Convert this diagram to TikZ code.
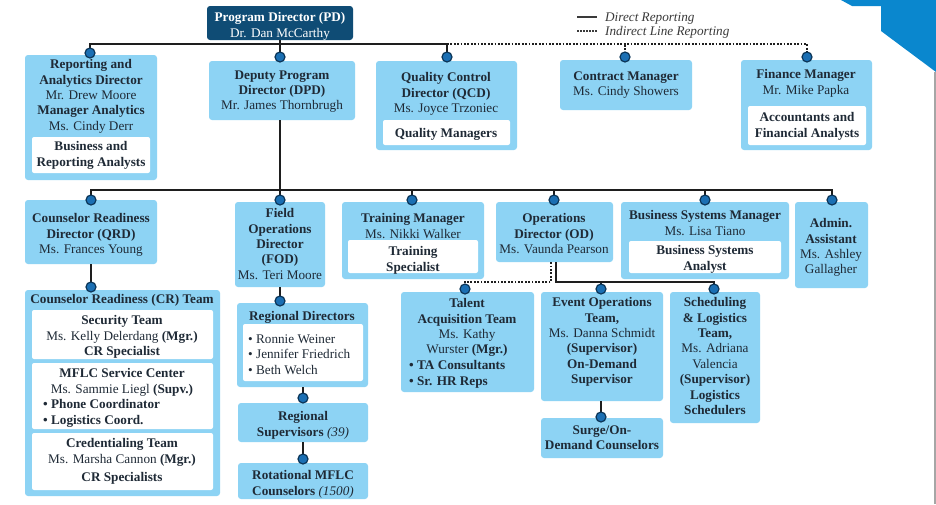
\documentclass[tikz,border=0pt]{standalone}
\usepackage{fontspec}
\setmainfont{Liberation Serif}
\usetikzlibrary{fit}
\definecolor{boxc}{HTML}{8DD3F4}
\definecolor{pdc}{HTML}{0F4C75}
\definecolor{linec}{HTML}{1E1E1E}
\definecolor{dotc}{HTML}{1B6FB3}
\definecolor{dotbc}{HTML}{0B3558}
\definecolor{cornc}{HTML}{0A87CE}
\definecolor{txtc}{HTML}{1F2A36}
\definecolor{legc}{HTML}{3A3A3A}
\tikzset{
  obox/.style={fill=boxc, rounded corners=3pt, inner sep=0pt},
  wbox/.style={fill=white, rounded corners=2pt, inner sep=0pt},
  pdbox/.style={fill=pdc, rounded corners=3pt, inner sep=0pt},
  txbase/.style={font=\fontsize{13.2}{15.4}\selectfont, inner sep=0pt, text=txtc},
  tx/.style={txbase, align=center, anchor=north, yshift=4.7pt},
  txl/.style={txbase, align=left, anchor=north west, yshift=4.7pt},
  legt/.style={txbase, text=legc, anchor=base west, yshift=-4.4pt},
  conn/.style={draw=linec, line width=2pt},
  dotconn/.style={draw=linec, line width=1.8pt, dash pattern=on 1.8pt off 1.6pt},
  dotn/.style={circle, fill=dotc, draw=dotbc, line width=1.2pt, minimum size=10pt, inner sep=0pt},
}
\begin{document}
\begin{tikzpicture}[x=1pt,y=-1pt]
\useasboundingbox (0,0) rectangle (936,504);
\fill[white] (0,0) rectangle (936,504);
% corner decoration
\fill[cornc] (841,0) -- (936,0) -- (936,72) -- (881,31) -- (881,6) -- (852,6) -- cycle;
\draw[gray!70, line width=1.2pt] (935,72) -- (935,504);

% ---------- boxes ----------
\node[pdbox, fit={(207,6)(353,40)}] (pd) {};
\node[obox, fit={(25,55)(157,180)}] (rad) {};
\node[wbox, fit={(32,137)(150,173)}] (radw) {};
\node[obox, fit={(209,61)(355,120)}] (dpd) {};
\node[obox, fit={(376,61)(517,150)}] (qcd) {};
\node[wbox, fit={(383,120)(510,145)}] (qcdw) {};
\node[obox, fit={(560,60)(692,110)}] (con) {};
\node[obox, fit={(741,60)(872,150)}] (fin) {};
\node[wbox, fit={(748,106)(866,145)}] (finw) {};

\node[obox, fit={(25,200)(157,264)}] (crd) {};
\node[obox, fit={(235,202)(325,287)}] (fod) {};
\node[obox, fit={(342,202)(484,279)}] (trn) {};
\node[wbox, fit={(348,240)(478,273)}] (trnw) {};
\node[obox, fit={(496,202)(613,262)}] (od) {};
\node[obox, fit={(621,202)(789,279)}] (bsm) {};
\node[wbox, fit={(629,241)(781,273)}] (bsmw) {};
\node[obox, fit={(795,202)(868,288)}] (adm) {};

\node[obox, fit={(25,290)(220,496)}] (crt) {};
\node[wbox, fit={(32,310)(213,359)}] (crt1) {};
\node[wbox, fit={(32,363)(213,429)}] (crt2) {};
\node[wbox, fit={(32,433)(213,490)}] (crt3) {};
\node[obox, fit={(237,303)(368,387)}] (rgd) {};
\node[wbox, fit={(243,324)(363,381)}] (rgdw) {};
\node[obox, fit={(238,403)(368,442)}] (rgs) {};
\node[obox, fit={(238,463)(368,499)}] (rot) {};
\node[obox, fit={(401,292)(534,392)}] (tal) {};
\node[obox, fit={(541,292)(663,401)}] (evt) {};
\node[obox, fit={(541,418)(663,458)}] (srg) {};
\node[obox, fit={(670,292)(760,423)}] (sch) {};

% ---------- texts ----------
\node[tx, text=white] (pd-t) at (280,17) {\textbf{Program Director (PD)}\\Dr. Dan McCarthy};
\node[tx] (rad-t) at (91,64) {\textbf{Reporting and}\\\textbf{Analytics Director}\\Mr. Drew Moore\\\textbf{Manager Analytics}\\Ms. Cindy Derr};
\node[tx] (radw-t) at (91,146) {\textbf{Business and}\\\textbf{Reporting Analysts}};
\node[tx] (dpd-t) at (282,75) {\textbf{Deputy Program}\\\textbf{Director (DPD)}\\Mr. James Thornbrugh};
\node[tx] (qcd-t) at (446,77) {\textbf{Quality Control}\\\textbf{Director (QCD)}\\Ms. Joyce Trzoniec};
\node[tx] (qcdw-t) at (446,133) {\textbf{Quality Managers}};
\node[tx] (con-t) at (626,76) {\textbf{Contract Manager}\\Ms. Cindy Showers};
\node[tx] (fin-t) at (806,74) {\textbf{Finance Manager}\\Mr. Mike Papka};
\node[tx] (finw-t) at (807,117) {\textbf{Accountants and}\\\textbf{Financial Analysts}};

\node[tx] (crd-t) at (91,218) {\textbf{Counselor Readiness}\\\textbf{Director (QRD)}\\Ms. Frances Young};
\node[tx] (fod-t) at (280,213) {\textbf{Field}\\\textbf{Operations}\\\textbf{Director}\\\textbf{(FOD)}\\Ms. Teri Moore};
\node[tx] (trn-t) at (413,218) {\textbf{Training Manager}\\Ms. Nikki Walker};
\node[tx] (trnw-t) at (413,251) {\textbf{Training}\\\textbf{Specialist}};
\node[tx] (od-t) at (554,218) {\textbf{Operations}\\\textbf{Director (OD)}\\Ms. Vaunda Pearson};
\node[tx] (bsm-t) at (705,215) {\textbf{Business Systems Manager}\\Ms. Lisa Tiano};
\node[tx] (bsmw-t) at (705,250) {\textbf{Business Systems}\\\textbf{Analyst}};
\node[tx] (adm-t) at (831,223) {\textbf{Admin.}\\\textbf{Assistant}\\Ms. Ashley\\Gallagher};

\node[tx] (crt-t) at (122,299) {\textbf{Counselor Readiness (CR) Team}};
\node[tx] (crt1-t) at (122,320) {\textbf{Security Team}\\Ms. Kelly Delerdang \textbf{(Mgr.)}\\\textbf{CR Specialist}};
\node[tx] (crt2-t) at (122,373) {\textbf{MFLC Service Center}\\Ms. Sammie Liegl \textbf{(Supv.)}};
\node[txl] (crt2-b) at (43,404) {\textbf{• Phone Coordinator}\\\textbf{• Logistics Coord.}};
\node[tx] (crt3-t) at (122,443) {\textbf{Credentialing Team}\\Ms. Marsha Cannon \textbf{(Mgr.)}};
\node[tx] (crt3-s) at (122,477) {\textbf{CR Specialists}};
\node[tx] (rgd-t) at (302,316) {\textbf{Regional Directors}};
\node[txl] (rgd-b) at (248,339) {• Ronnie Weiner\\• Jennifer Friedrich\\• Beth Welch};
\node[tx] (rgs-t) at (303,416) {\textbf{Regional}\\\textbf{Supervisors} \textit{(39)}};
\node[tx] (rot-t) at (303,475) {\textbf{Rotational MFLC}\\\textbf{Counselors} \textit{(1500)}};
\node[tx] (tal-t) at (467,303) {\textbf{Talent}\\\textbf{Acquisition Team}\\Ms. Kathy\\Wurster \textbf{(Mgr.)}};
\node[txl] (tal-b) at (409,365) {\textbf{• TA Consultants}\\\textbf{• Sr. HR Reps}};
\node[tx] (evt-t) at (602,302) {\textbf{Event Operations}\\\textbf{Team,}\\Ms. Danna Schmidt\\\textbf{(Supervisor)}\\\textbf{On-Demand}\\\textbf{Supervisor}};
\node[tx] (srg-t) at (602,430) {\textbf{Surge/On-}\\\textbf{Demand Counselors}};
\node[tx] (sch-t) at (715,302) {\textbf{Scheduling}\\\textbf{\& Logistics}\\\textbf{Team,}\\Ms. Adriana\\Valencia\\\textbf{(Supervisor)}\\\textbf{Logistics}\\\textbf{Schedulers}};

% ---------- legend ----------
\coordinate (lg1a) at (577,17); \coordinate (lg1b) at (597,17);
\coordinate (lg2a) at (577,31); \coordinate (lg2b) at (597,31);
\draw[draw=legc, line width=1.6pt] (lg1a) -- (lg1b);
\draw[draw=legc, line width=1.6pt, dash pattern=on 1.6pt off 1.4pt] (lg2a) -- (lg2b);
\node[legt] (lg1t) at (605,17) {\textit{Direct Reporting}};
\node[legt] (lg2t) at (605,31) {\textit{Indirect Line Reporting}};

% ---------- dot positions ----------
\coordinate (rad-d) at (90,53);
\coordinate (dpd-d) at (280,57);
\coordinate (qcd-d) at (447,57);
\coordinate (con-d) at (625,57);
\coordinate (fin-d) at (807,57);
\coordinate (crd-d) at (91,200);
\coordinate (fod-d) at (280,200);
\coordinate (trn-d) at (412,200);
\coordinate (od-d) at (554,200);
\coordinate (bsm-d) at (705,200);
\coordinate (adm-d) at (832,200);
\coordinate (cr-d) at (91,287);
\coordinate (rgd-d) at (280,301);
\coordinate (rgs-d) at (303,398);
\coordinate (rot-d) at (303,459);
\coordinate (tal-d) at (465,289);
\coordinate (evt-d) at (601,289);
\coordinate (sch-d) at (714,289);
\coordinate (srg-d) at (601,417);

% ---------- connectors ----------
\coordinate (b1l) at (90,44); \coordinate (b1q) at (447,44); \coordinate (b1f) at (807,44);
\draw[conn] (pd.south) -- (pd.south|-b1l);
\draw[conn] (rad-d) -- (b1l) -- (b1q) -- (qcd-d);
\draw[conn] (dpd-d) -- (dpd-d|-b1l);
\draw[dotconn] (b1q) -- (b1f) -- (fin-d);
\draw[dotconn] (con-d) -- (con-d|-b1l);

\coordinate (b2l) at (91,190); \coordinate (b2r) at (832,190);
\draw[conn] (dpd-d|-dpd.south) -- (dpd-d|-b2l);
\draw[conn] (crd-d) -- (b2l) -- (b2r) -- (adm-d);
\draw[conn] (fod-d) -- (fod-d|-b2l);
\draw[conn] (trn-d) -- (trn-d|-b2l);
\draw[conn] (od-d) -- (od-d|-b2l);
\draw[conn] (bsm-d) -- (bsm-d|-b2l);

\draw[conn] (crd.south) -- (cr-d);
\draw[conn] (rgd-d|-fod.south) -- (rgd-d);
\draw[conn] (rgs-d|-rgd.south) -- (rgs-d);
\draw[conn] (rot-d|-rgs.south) -- (rot-d);
\draw[conn] (srg-d|-evt.south) -- (srg-d);

\coordinate (odl) at (551,282); \coordinate (odr) at (556,282);
\draw[dotconn] (od.south-|odl) -- (odl) -- (tal-d|-odl) -- (tal-d);
\draw[conn] (od.south-|odr) -- (odr) -- (sch-d|-odr) -- (sch-d);
\draw[conn] (evt-d) -- (evt-d|-odr);

% ---------- dots ----------
\foreach \d in {rad,dpd,qcd,con,fin,crd,fod,trn,od,bsm,adm,cr,rgd,rgs,rot,tal,evt,sch,srg}
  \node[dotn] (\d-dot) at (\d-d) {};
\end{tikzpicture}
\end{document}
